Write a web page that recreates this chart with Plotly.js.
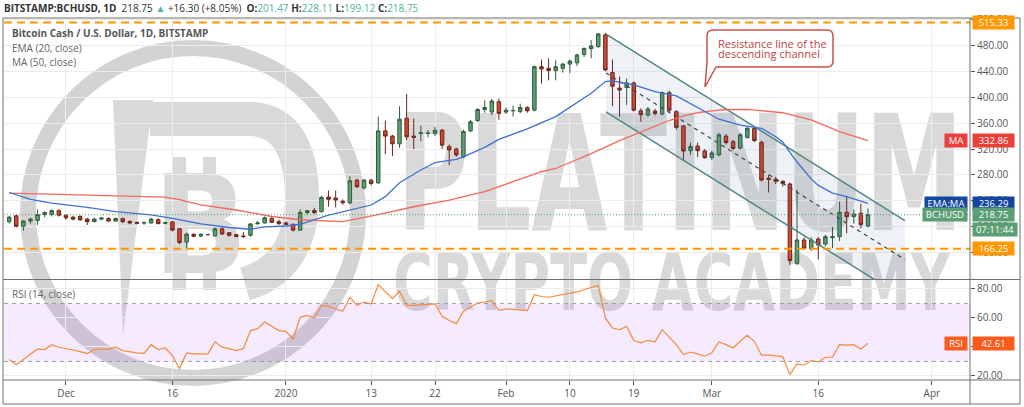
<!DOCTYPE html>
<html>
<head>
<meta charset="utf-8">
<script src="https://cdn.plot.ly/plotly-3.0.1.min.js"></script>
<style>
  html, body { margin: 0; padding: 0; background: #fff; }
  #wrap { position: relative; width: 1024px; height: 407px; overflow: hidden; }
  #wm { position: absolute; left: 0; top: 0; z-index: 0; }
  #chart { position: absolute; left: 0; top: 0; width: 1024px; height: 407px; z-index: 1; }
</style>
</head>
<body>
<div id="wrap">
<!-- watermark, sits behind the transparent plot -->
<svg id="wm" width="1024" height="407" viewBox="0 0 1024 407">
  <g fill="#d9d9d9">
    <circle cx="193" cy="213" r="165" fill="none" stroke="#d3d3d3" stroke-width="16"/>
    <path d="M113 100 L153 100 L123 335 Z"/>
    <path d="M150 119 L252 119 Q302 122 302 200 Q300 268 245 284" fill="none" stroke="#d9d9d9" stroke-width="34"/>
    <text x="153" y="273" font-family="DejaVu Sans" font-weight="bold" font-size="137" textLength="95" lengthAdjust="spacingAndGlyphs">B</text>
    <rect x="173" y="157" width="13" height="17"/>
    <rect x="203" y="157" width="13" height="17"/>
    <rect x="173" y="272" width="13" height="18"/>
    <rect x="203" y="272" width="13" height="18"/>
    <text x="397" y="230" font-family="DejaVu Sans" font-weight="bold" font-size="160" textLength="566" lengthAdjust="spacingAndGlyphs">PLATINUM</text>
    <text x="393" y="310" font-family="DejaVu Sans" font-weight="bold" font-size="78" textLength="557" lengthAdjust="spacingAndGlyphs">CRYPTO ACADEMY</text>
  </g>
</svg>
<div id="chart"></div>
</div>
<script>
// BCHUSD daily, Bitstamp

// Data
var firstDay = '2019-11-23';

var opens = [208,217,201,209,210,219,219,225,218,215,
  216,212,208,212,213,209,213,208.5,207,206,
  206,211,205.5,207.5,197,176.5,188.5,186,188,186,
  197,191,188,186,187,205,206,213,208,206,
  204,195,222,225,223.5,246,244.5,239.5,237,272,
  260,272,268,348,340,328,367.5,340,344,344,
  344,349,323.7,320,308,348,364,381,377,393,
  377,379,378,384,380,447,444.5,441,444.5,451,
  453,466,475,478,496,438,414,415,422,379,
  372.5,378.7,374,407,377.6,355.5,317.5,324.7,317,307,
  311,340,331.4,321.5,338,352,330.4,275,273.3,270.2,
  266.1,143.8,179.8,165.9,181.3,173.6,183.4,184.9,222.4,215.7,
  220.9,201.47];

var highs = [217,219,210,214,227,224,227,227,219,217,
  218,214,214,215,215,214,214,210,208,208,
  214,213,208,209,198,191,190,190,189,199,
  199,192,189,192,206,209,216,215,211,208,
  205,227,226,229,248,256,256,242,278,274,
  274,274,370,364,342,386,405,367,356,349,
  354,351,327,322,350,365,383,395,397,398,
  384,387,390,386,449,458,460,457,453,458,
  467,477,488,499,499,458,432,429,424,383,
  385,382,409,410,380,357,330,330,320,318,
  345,343,334,345,354,355,333,280,277,272,
  268,257,184,184,184,188,200,239,246.6,227,
  236,228.11];

var lows = [205,199,194,205,203,215,216,216,211,210,
  209,203,207,210,208,208,206,204,204,203,
  205,204,204,193,173,167,184,184,186,185,
  188,185,184,183,185,203,205,206,203,203,
  193,194,219,220,222,231,230,234,235,260,
  258,264,266,312,309,322,334,320,332,338,
  340,320,295,308,306,346,362,376,372,365,
  374,370,375,376,378,421,426,426,438,437,
  448,462,460,476,440,386,370,388,378,362,
  370,372,372,376,350,302,311,308,305,303,
  309,327,318,319,336,331,270,253,266,262,
  141,141,164,163,150,170,167,178,190,205,
  198,199.12];

var closes = [215,201,209,212,219,222,225,218,214,212,
  211,208,212,213.5,209,213,208,206,205.5,206.5,
  212,205,206.5,195,176,189,185.5,188.5,188.3,197,
  189,187,185,185,204.5,206,214,207,205,204,
  195,222,225,222,245.5,242.5,241.5,237.3,271,262,
  272,267,348,340,328,366,339,338,345,344.5,
  349,326,318.5,311,347,362,381,384,394,375,
  380,379.5,384,379,447,443.5,441,447,451,455.6,
  465,475,479,497.5,442,417,411,422,380,373,
  381.8,375,407,380,353.5,317,323.7,317.5,306.7,314,
  342,330,321,342,352,333,272.3,273.3,270.2,267,
  147.9,179.8,166.9,179.8,172,184.9,184.9,222.4,215.7,219.9,
  203.4,218.75];

// EMA 20 and MA 50 at these candle numbers
var emaIdx = [0,3,6,11,15,20,23,27,31,34,36,39,41,45,51,53,55,58,60,63,64,67,69,73,77,82,84,85,88,91,94,96,98,100,103,106,108,109,110,111,113,114,116,118,121];
var emaVal = [253,242.5,236.5,230,223.5,218.5,213,204.5,199,196.3,200,201.3,204,218,233.7,246.6,268,287.7,299,304,308,322.6,335,351,370,406,424,425,419,408.5,402,390,378,366,357,352,339,331,315,300,274,264,252,246.6,236.29];

var maIdx = [0,8,18,22,24,27,32,37,41,44,47,52,57,62,67,71,75,77,82,86,90,93,95,97,99,101,104,107,109,113,117,121];
var maVal = [252,250,248,246,242,234,226,216,211,209,208,219,231,241.4,254.3,269.7,285,290,313,333,351,364,371,376,379,381,381.2,378,376,365,347,332.86];

var rsi = [31.3,27.8,31.3,34.7,38.6,38.2,41.6,39.8,38.6,37.9,
  36.8,35.4,38.2,38.6,38.4,39.8,37.5,36.5,35.9,35.6,
  41.6,38.2,39.3,34.0,25.0,35.9,35.2,35.2,35.2,43.5,
  39.8,38.8,37.5,38.8,51.3,52.6,57.2,54.3,51.3,50.8,
  45.5,60.5,61.8,60.0,68.7,68.0,66.4,64.6,74.3,68.7,
  71.0,69.7,83.0,78.4,73.3,78.4,68.7,68.7,69.2,69.7,
  69.7,61.2,58.2,56.1,64.6,67.4,70.3,71.0,71.9,65.3,
  66.2,66.0,65.7,65.1,76.1,74.8,74.3,75.2,76.0,77.2,
  78.0,79.5,80.8,82.5,60.0,53.1,51.9,54.2,44.4,42.8,
  44.6,43.5,51.9,46.7,41.6,34.7,36.5,35.2,33.6,35.9,
  43.5,41.6,39.3,43.9,48.1,43.9,34.3,34.3,34.0,33.3,
  20.9,28.3,27.4,30.6,29.7,32.9,32.9,41.6,41.2,41.6,
  38.6,42.61];

// Horizontal levels drawn on the chart
var levelTop = 515.33;
var levelBottom = 166.25;
var lastPrice = 218.75;
var emaLast = 236.29;
var maLast = 332.86;
var rsiLast = 42.61;

// Descending channel (start, end)
var channelX = ['2020-02-15 02:00', '2020-03-28 05:00'];
var channelTop = [497.4, 209.5];
var channelWidth = 120;

// Axis ticks
var dateTicks = ['2019-12-01','2019-12-16','2020-01-01','2020-01-13','2020-01-22','2020-02-01','2020-02-10','2020-02-19','2020-03-01','2020-03-16','2020-04-01'];
var dateLabels = ['Dec','16','2020','13','22','Feb','10','19','Mar','16','Apr'];
var priceTicks = [160,200,240,280,320,360,400,440,480,520];
var rsiTicks = [20,40,60,80];


// Helpers
function dayStr(i) {
  var p = firstDay.split('-');
  var d = new Date(Date.UTC(+p[0], +p[1] - 1, +p[2] + i));
  return d.toISOString().slice(0, 10);
}

var dates = opens.map(function (_, i) { return dayStr(i); });
var emaX = emaIdx.map(dayStr);
var maX = maIdx.map(dayStr);

var W = 1024, H = 407;
var M = {l: 4, r: 54, t: 18, b: 27};
var PW = W - M.l - M.r, PH = H - M.t - M.b;
function px2x(px) { return (px - M.l) / PW; }
function px2y(py) { return (H - M.b - py) / PH; }

var FONT = 'Open Sans, Noto Sans, sans-serif';
var GRID = '#ececec';
var FRAME = '#6e6e6e';


// Traces
var channelFill = {
  type: 'scatter', mode: 'lines',
  x: [channelX[0], channelX[1], channelX[1], channelX[0], channelX[0]],
  y: [channelTop[0], channelTop[1], channelTop[1] - channelWidth, channelTop[0] - channelWidth, channelTop[0]],
  fill: 'toself', fillcolor: 'rgba(40,90,140,0.08)',
  line: {width: 0}, hoverinfo: 'skip', xaxis: 'x', yaxis: 'y',
};
var channelUpper = {
  type: 'scatter', mode: 'lines', x: channelX, y: channelTop,
  line: {color: '#4f8683', width: 1.5}, hoverinfo: 'skip', xaxis: 'x', yaxis: 'y',
};
var channelLower = {
  type: 'scatter', mode: 'lines', x: channelX,
  y: channelTop.map(function (v) { return v - channelWidth; }),
  line: {color: '#4f8683', width: 1.5}, hoverinfo: 'skip', xaxis: 'x', yaxis: 'y',
};
var channelMid = {
  type: 'scatter', mode: 'lines', x: channelX,
  y: channelTop.map(function (v) { return v - channelWidth / 2; }),
  line: {color: '#444', width: 1.2, dash: '4px,4px'}, hoverinfo: 'skip', xaxis: 'x', yaxis: 'y',
};

var maTrace = {
  type: 'scatter', mode: 'lines', x: maX, y: maVal,
  line: {color: '#f26a5e', width: 1.3}, hoverinfo: 'skip', xaxis: 'x', yaxis: 'y',
};
var emaTrace = {
  type: 'scatter', mode: 'lines', x: emaX, y: emaVal,
  line: {color: '#3f6fd0', width: 1.3}, hoverinfo: 'skip', xaxis: 'x', yaxis: 'y',
};

var candles = {
  type: 'candlestick', x: dates,
  open: opens, high: highs, low: lows, close: closes,
  increasing: {line: {color: '#2f5d3c', width: 1}, fillcolor: '#5e9f72'},
  decreasing: {line: {color: '#6e2418', width: 1}, fillcolor: '#d5472f'},
  whiskerwidth: 0, hoverinfo: 'skip', xaxis: 'x', yaxis: 'y',
};

var rsiTrace = {
  type: 'scatter', mode: 'lines', x: dates, y: rsi,
  line: {color: '#f58a3c', width: 1.2}, hoverinfo: 'skip', xaxis: 'x', yaxis: 'y2',
};


// Shapes
function hline(y0px, x0px, x1px) {
  return {type: 'line', xref: 'paper', yref: 'paper',
    x0: px2x(x0px), x1: px2x(x1px), y0: px2y(y0px), y1: px2y(y0px),
    line: {color: FRAME, width: 1}};
}

var shapes = [
  // rsi band
  {type: 'rect', xref: 'paper', yref: 'y2', x0: 0, x1: 1, y0: 30, y1: 70,
    fillcolor: 'rgba(153,21,255,0.09)', line: {width: 0}, layer: 'below'},
  {type: 'line', xref: 'paper', yref: 'y2', x0: 0, x1: 1, y0: 70, y1: 70,
    line: {color: '#a0a0a0', width: 1, dash: '4px,4px'}},
  {type: 'line', xref: 'paper', yref: 'y2', x0: 0, x1: 1, y0: 30, y1: 30,
    line: {color: '#a0a0a0', width: 1, dash: '4px,4px'}},
  // price levels
  {type: 'line', xref: 'paper', yref: 'y', x0: 0, x1: 1, y0: levelTop, y1: levelTop,
    line: {color: '#ff9800', width: 2, dash: '8px,5px'}},
  {type: 'line', xref: 'paper', yref: 'y', x0: 0, x1: 1, y0: levelBottom, y1: levelBottom,
    line: {color: '#ff9800', width: 2, dash: '8px,5px'}},
  {type: 'line', xref: 'paper', yref: 'y', x0: 0, x1: 1, y0: lastPrice, y1: lastPrice,
    line: {color: '#5a9e6f', width: 1, dash: '1px,2px'}},
  // frame
  {type: 'rect', xref: 'paper', yref: 'paper',
    x0: px2x(3), x1: px2x(1020), y0: px2y(404), y1: px2y(18),
    line: {color: FRAME, width: 1}},
  {type: 'line', xref: 'paper', yref: 'paper', x0: 1, x1: 1, y0: px2y(404), y1: px2y(18),
    line: {color: FRAME, width: 1}},
  hline(279.5, 3, 1020),
  hline(380, 3, 1020),
];

// callout box with a tail
function P(px, py) { return px2x(px).toFixed(5) + ',' + px2y(py).toFixed(5); }
var callPath = 'M' + P(713, 30) + ' L' + P(827, 30) + ' Q' + P(833, 30) + ' ' + P(833, 36) +
  ' L' + P(833, 61) + ' Q' + P(833, 67) + ' ' + P(827, 67) +
  ' L' + P(716, 67) + ' L' + P(705, 87) + ' L' + P(707, 62) +
  ' L' + P(707, 36) + ' Q' + P(707, 30) + ' ' + P(713, 30) + ' Z';
shapes.push({type: 'path', xref: 'paper', yref: 'paper', path: callPath,
  fillcolor: '#ffffff', line: {color: '#c9504b', width: 1.5}});


// Annotations
function txt(text, xpx, ypx, size, color) {
  return {xref: 'paper', yref: 'paper', x: px2x(xpx), y: px2y(ypx),
    xanchor: 'left', yanchor: 'middle', showarrow: false, text: text,
    font: {family: FONT, size: size, color: color}};
}

function tag(text, yval, yref, bg, side, wpx, yshift) {
  return {xref: 'paper', yref: yref, y: yval, yshift: yshift || 0,
    x: side == 'value' ? px2x(972) : px2x(968),
    xanchor: side == 'value' ? 'left' : 'right', yanchor: 'middle',
    showarrow: false, text: text, bgcolor: bg, borderpad: 1,
    width: wpx, height: 11, align: 'center',
    font: {family: FONT, size: 9.5, color: '#ffffff'}};
}

var teal = '#4fb3a0';
var header = '<b>BITSTAMP:BCHUSD, 1D</b>  218.75 <span style="color:' + teal + '">▲</span> +16.30 (+8.05%)  ' +
  '<b>O:</b><span style="color:' + teal + '">201.47</span> ' +
  '<b>H:</b><span style="color:' + teal + '">228.11</span> ' +
  '<b>L:</b><span style="color:' + teal + '">199.12</span> ' +
  '<b>C:</b><span style="color:' + teal + '">218.75</span>';

var annotations = [
  txt(header, 2, 8, 10, '#333'),
  txt('<b>Bitcoin Cash / U.S. Dollar, 1D, BITSTAMP</b>', 10, 33, 10, '#555'),
  txt('EMA (20, close)', 10, 48, 10, '#666'),
  txt('MA (50, close)', 10, 62, 10, '#666'),
  txt('RSI (14, close)', 10, 294, 10, '#666'),
  txt('Resistance line of the', 716, 43, 11, '#c0433e'),
  txt('descending channel', 716, 54, 11, '#c0433e'),

  tag('515.33', levelTop, 'y', '#ff9800', 'value', 39),
  tag('MA', maLast, 'y', '#ec3f3a', 'name', 20),
  tag('332.86', maLast, 'y', '#ec3f3a', 'value', 39),
  tag('EMA:MA', emaLast, 'y', '#14469f', 'name', 40),
  tag('236.29', emaLast, 'y', '#14469f', 'value', 39),
  tag('BCHUSD', lastPrice, 'y', '#5b9e74', 'name', 42),
  tag('218.75', lastPrice, 'y', '#5b9e74', 'value', 39),
  tag('07:11:44', lastPrice, 'y', '#5b9e74', 'value', 42, -15),
  tag('166.25', levelBottom, 'y', '#ff9800', 'value', 39),
  tag('RSI', rsiLast, 'y2', '#fd5a1e', 'name', 20),
  tag('42.61', rsiLast, 'y2', '#fd5a1e', 'value', 39),
];


// Layout
var axisFont = {family: FONT, size: 10, color: '#555'};

var layout = {
  width: W, height: H,
  margin: M,
  paper_bgcolor: 'rgba(0,0,0,0)',
  plot_bgcolor: 'rgba(0,0,0,0)',
  showlegend: false,
  xaxis: {
    type: 'date', anchor: 'y2',
    range: ['2019-11-22 06:30', '2020-04-06 09:00'],
    tickmode: 'array', tickvals: dateTicks, ticktext: dateLabels,
    showgrid: true, gridcolor: GRID, zeroline: false, showline: false,
    ticks: 'outside', ticklen: 4, tickcolor: '#555', tickfont: axisFont,
    rangeslider: {visible: false}, fixedrange: true,
  },
  yaxis: {
    domain: [px2y(279), 1], side: 'right', anchor: 'x',
    range: [119.6, 522.1],
    tickmode: 'array', tickvals: priceTicks, tickformat: '.2f',
    showgrid: true, gridcolor: GRID, zeroline: false, showline: false,
    ticks: 'outside', ticklen: 4, tickcolor: '#555', tickfont: axisFont,
    fixedrange: true,
  },
  yaxis2: {
    domain: [0, px2y(280)], side: 'right', anchor: 'x',
    range: [17.2, 86.2],
    tickmode: 'array', tickvals: rsiTicks, tickformat: '.2f',
    showgrid: true, gridcolor: GRID, zeroline: false, showline: false,
    ticks: 'outside', ticklen: 4, tickcolor: '#555', tickfont: axisFont,
    fixedrange: true,
  },
  shapes: shapes,
  annotations: annotations,
};

var config = {displayModeBar: false, staticPlot: true, responsive: false};

Plotly.newPlot('chart',
  [channelFill, channelUpper, channelLower, channelMid, maTrace, emaTrace, candles, rsiTrace],
  layout, config);
</script>
</body>
</html>
